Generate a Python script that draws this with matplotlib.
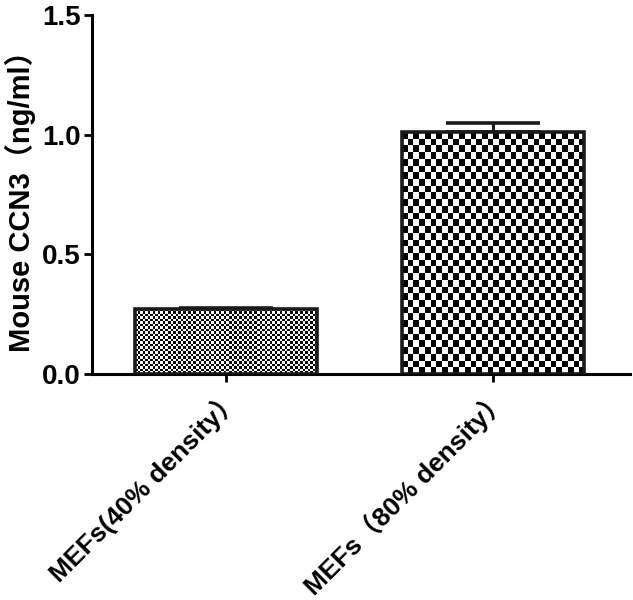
import numpy as np
import matplotlib
matplotlib.use('Agg')
import matplotlib.pyplot as plt

plt.rcParams['font.family'] = ['Liberation Sans', 'Noto Sans CJK SC']
plt.rcParams['font.weight'] = 'bold'

categories = ['MEFs(40% density）', 'MEFs（80% density）']
values = [0.27, 1.01]
errors = [0.005, 0.04]
ylabel = 'Mouse CCN3（ng/ml）'

fig = plt.figure(figsize=(6.33, 6.0), dpi=100)
ax = fig.add_axes([0.145, 0.377, 0.85, 0.598])

x = np.arange(len(categories))
width = 0.68
ax.errorbar(x, values, yerr=[[0] * len(values), errors], fmt='none', ecolor='#1a1a1a',
            elinewidth=2.2, capsize=34, capthick=2.6, zorder=1)
bars = ax.bar(x, values, width, color='white', edgecolor='none', zorder=2)

# checkerboard fills, fine for first bar, coarse for second
cells = [(72, 26), (32, 36)]
for bar, (nx, ny) in zip(bars, cells):
    bx, by = bar.get_x(), bar.get_y()
    bw, bh = bar.get_width(), bar.get_height()
    ii, jj = np.indices((ny, nx))
    board = ((ii + jj) % 2).astype(float)
    im = ax.imshow(board, cmap='gray', vmin=0, vmax=1, extent=[bx, bx + bw, by, by + bh],
                   aspect='auto', interpolation='nearest', zorder=2.5)
    im.set_clip_path(bar)

# outlines on top
ax.bar(x, values, width, color='none', edgecolor='#1a1a1a', linewidth=2.6, zorder=3)

ax.set_xlim(-0.5, 1.51)
ax.set_ylim(0, 1.5)
ax.set_yticks([0, 0.5, 1.0, 1.5])
ax.set_yticklabels(['0.0', '0.5', '1.0', '1.5'], fontsize=20, fontweight='bold')
ax.set_xticks(x)
ax.set_xticklabels(categories, rotation=45, ha='right', rotation_mode='anchor',
                   fontsize=19, fontweight='bold')
ax.set_ylabel(ylabel, fontsize=21, fontweight='bold', labelpad=4)

for s in ['top', 'right']:
    ax.spines[s].set_visible(False)
for s in ['left', 'bottom']:
    ax.spines[s].set_linewidth(2.2)
ax.tick_params(axis='both', direction='out', length=6, width=2.0, pad=2)

fig.savefig('out.png', dpi=100)
